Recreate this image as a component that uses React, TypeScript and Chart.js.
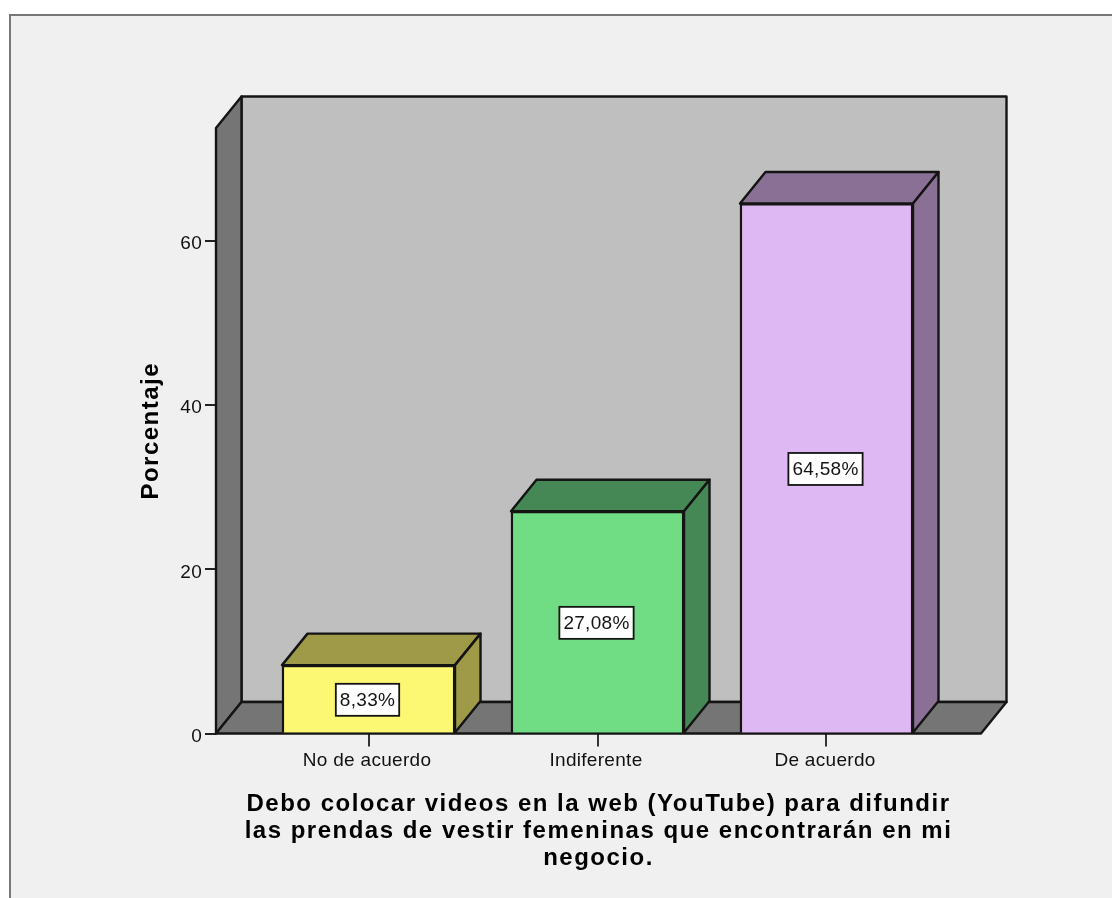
import { useEffect, useRef } from "react";
import { Chart, registerables } from "chart.js";

Chart.register(...registerables);

const categories = ["No de acuerdo", "Indiferente", "De acuerdo"];
const percentages = [8.33, 27.08, 64.58];
const frontColors = ["#fcf873", "#70dd85", "#deb8f2"];
const shadeColors = ["#9e9a48", "#458855", "#8a7095"];
const yTicks = [0, 20, 40, 60];
const xTitleLines = [
  "Debo colocar videos en la web (YouTube) para difundir",
  "las prendas de vestir femeninas que encontrarán en mi",
  "negocio.",
];
const yTitle = "Porcentaje";

const FONT = "'Liberation Sans', Arial, sans-serif";
const INK = "#141414";
const DEPTH_X = 25.5;
const DEPTH_Y = 31.5;
const TEXT_SPACING = "0.3px";
const TITLE_SPACING = "1.5px";

function polygon(ctx: CanvasRenderingContext2D, pts: number[][], fill: string) {
  ctx.beginPath();
  pts.forEach(([x, y], i) => (i ? ctx.lineTo(x, y) : ctx.moveTo(x, y)));
  ctx.closePath();
  ctx.fillStyle = fill;
  ctx.fill();
  ctx.lineWidth = 2.4;
  ctx.lineJoin = "round";
  ctx.strokeStyle = INK;
  ctx.stroke();
}

// Panel background with its grey top and left rules; also sets up text tracking.
const panelPlugin = {
  id: "panel",
  beforeDraw(chart: any) {
    const { ctx, width, height } = chart;
    (ctx as any).letterSpacing = TEXT_SPACING;
    Object.values(chart.scales).forEach((scale: any) => {
      if (scale.trackedTitle) return;
      const drawTitle = scale.drawTitle;
      scale.trackedTitle = true;
      scale.drawTitle = function () {
        ctx.letterSpacing = TITLE_SPACING;
        drawTitle.call(scale);
        ctx.letterSpacing = TEXT_SPACING;
      };
    });
    ctx.save();
    ctx.fillStyle = "#f0f0f0";
    ctx.fillRect(9, 14, width - 9, height - 14);
    ctx.strokeStyle = "#777777";
    ctx.lineWidth = 2;
    ctx.beginPath();
    ctx.moveTo(10, height);
    ctx.lineTo(10, 15);
    ctx.lineTo(width, 15);
    ctx.stroke();
    ctx.restore();
  },
};

// Back wall, side wall and floor, then the hidden faces of each bar.
const boxPlugin = {
  id: "box",
  beforeDatasetsDraw(chart: any) {
    const { ctx, chartArea: a } = chart;
    const dx = DEPTH_X;
    const dy = DEPTH_Y;
    ctx.save();
    polygon(ctx, [[a.left + dx, a.top - dy], [a.right + dx, a.top - dy], [a.right + dx, a.bottom - dy], [a.left + dx, a.bottom - dy]], "#bfbfbf");
    polygon(ctx, [[a.left, a.top], [a.left + dx, a.top - dy], [a.left + dx, a.bottom - dy], [a.left, a.bottom]], "#757575");
    polygon(ctx, [[a.left, a.bottom], [a.left + dx, a.bottom - dy], [a.right + dx, a.bottom - dy], [a.right, a.bottom]], "#757575");
    chart.getDatasetMeta(0).data.forEach((bar: any, i: number) => {
      const l = bar.x - bar.width / 2;
      const r = bar.x + bar.width / 2;
      polygon(ctx, [[l, bar.y], [l + dx, bar.y - dy], [r + dx, bar.y - dy], [r, bar.y]], shadeColors[i]);
      polygon(ctx, [[r, bar.y], [r + dx, bar.y - dy], [r + dx, bar.base - dy], [r, bar.base]], shadeColors[i]);
    });
    ctx.restore();
  },
  afterDatasetsDraw(chart: any) {
    const { ctx } = chart;
    ctx.save();
    ctx.font = `19px ${FONT}`;
    ctx.textAlign = "center";
    ctx.textBaseline = "middle";
    chart.getDatasetMeta(0).data.forEach((bar: any, i: number) => {
      const text = percentages[i].toFixed(2).replace(".", ",") + "%";
      const w = ctx.measureText(text).width + 8;
      const h = 32;
      const cx = bar.x - 1;
      const cy = (bar.y + bar.base) / 2 + 1;
      ctx.fillStyle = "#ffffff";
      ctx.fillRect(cx - w / 2, cy - h / 2, w, h);
      ctx.strokeStyle = INK;
      ctx.lineWidth = 1.8;
      ctx.strokeRect(cx - w / 2, cy - h / 2, w, h);
      ctx.fillStyle = INK;
      ctx.fillText(text, cx, cy + 1);
    });
    ctx.restore();
  },
};

export default function App() {
  const ref = useRef<HTMLCanvasElement>(null);

  useEffect(() => {
    document.body.style.margin = "0";
    const chart = new Chart(ref.current as HTMLCanvasElement, {
      type: "bar",
      data: {
        datasets: [
          {
            data: percentages.map((y, x) => ({ x, y })),
            backgroundColor: frontColors,
            borderColor: INK,
            borderWidth: 2.4,
            barThickness: 173,
          },
        ],
      },
      plugins: [panelPlugin, boxPlugin],
      options: {
        responsive: false,
        animation: false,
        layout: { padding: { left: 136.6, right: 131, top: 128, bottom: 26.5 } },
        plugins: { legend: { display: false }, tooltip: { enabled: false } },
        scales: {
          x: {
            type: "linear",
            offset: false,
            min: -0.666,
            max: 2.6747,
            border: { display: false },
            grid: { offset: false, drawOnChartArea: false, drawTicks: true, tickLength: 13, color: "#333333", lineWidth: 2 },
            afterBuildTicks: (scale: any) => {
              scale.ticks = categories.map((_, value) => ({ value }));
            },
            afterFit: (scale: any) => {
              scale.height = 138;
            },
            ticks: {
              autoSkip: false,
              maxRotation: 0,
              padding: 3,
              labelOffset: -1.5,
              color: "#111111",
              font: { family: FONT, size: 19 },
              callback: (v: any) => categories[v],
            },
            title: {
              display: true,
              text: xTitleLines,
              color: "#000000",
              padding: 0,
              font: { family: FONT, size: 24, weight: "bold", lineHeight: 27 / 24 },
            },
          },
          y: {
            min: 0,
            max: 73.77,
            border: { display: false },
            grid: { drawOnChartArea: false, drawTicks: true, tickLength: 11, color: "#222222", lineWidth: 2 },
            afterBuildTicks: (scale: any) => {
              scale.ticks = yTicks.map((value) => ({ value }));
            },
            afterFit: (scale: any) => {
              scale.width = 79.4;
            },
            ticks: {
              padding: 3,
              labelOffset: 3,
              color: "#111111",
              font: { family: FONT, size: 19 },
            },
            title: {
              display: true,
              text: yTitle,
              color: "#000000",
              padding: 0,
              font: { family: FONT, size: 24, weight: "bold" },
            },
          },
        },
      },
    } as any);
    return () => chart.destroy();
  }, []);

  return <canvas ref={ref} width={1112} height={898} style={{ display: "block" }} />;
}
